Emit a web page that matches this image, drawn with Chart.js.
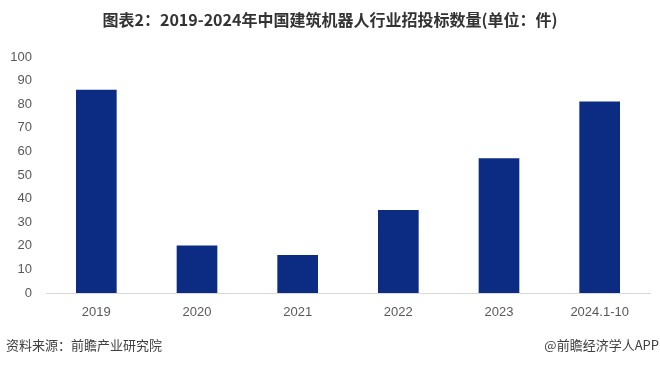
<!DOCTYPE html>
<html>
<head>
<meta charset="utf-8">
<script src="https://cdn.jsdelivr.net/npm/chart.js@4"></script>
<style>
  html, body { margin: 0; padding: 0; background: #fff; }
  #wrap { position: relative; width: 660px; height: 365px; }
</style>
</head>
<body>
<div id="wrap"><canvas id="chart" width="660" height="365"></canvas></div>
<script>
// chart data
const categories = ["2019", "2020", "2021", "2022", "2023", "2024.1-10"];
const bidCounts = [86, 20, 16, 35, 57, 81];
const yTicks = [0, 10, 20, 30, 40, 50, 60, 70, 80, 90, 100];

const titleText = "图表2：2019-2024年中国建筑机器人行业招投标数量(单位：件)";
const sourceText = "资料来源：前瞻产业研究院";
const brandText = "@前瞻经济学人APP";

const cjkFont = '"Noto Sans CJK SC", "Microsoft YaHei", sans-serif';

// draws title and footer texts
const textPlugin = {
  id: "texts",
  afterDraw(chart) {
    const ctx = chart.ctx;
    ctx.save();
    ctx.textBaseline = "middle";
    ctx.fillStyle = "#333333";
    ctx.font = "bold 16px " + cjkFont;
    ctx.textAlign = "center";
    ctx.fillText(titleText, 330, 20);

    ctx.font = "13px " + cjkFont;
    ctx.fillStyle = "#404040";
    ctx.textAlign = "left";
    ctx.fillText(sourceText, 6, 345);
    ctx.textAlign = "right";
    ctx.fillText(brandText, 659, 345);
    ctx.restore();
  },
};

const ctx = document.getElementById("chart").getContext("2d");
new Chart(ctx, {
  type: "bar",
  data: {
    labels: categories,
    datasets: [
      {
        data: bidCounts,
        backgroundColor: "#0c2c84",
        barThickness: 40,
      },
    ],
  },
  options: {
    responsive: false,
    animation: false,
    layout: {
      padding: { top: 57, right: 10, bottom: 42, left: 0 },
    },
    plugins: {
      legend: { display: false },
      title: { display: false },
      tooltip: { enabled: false },
    },
    scales: {
      x: {
        grid: { display: false, drawTicks: false },
        border: { display: true, color: "#d9d9d9", width: 1 },
        ticks: {
          color: "#595959",
          font: { family: "Liberation Sans, Arial, sans-serif", size: 13 },
          padding: 12,
          maxRotation: 0,
        },
        afterFit(scale) {
          scale.height = 30;
        },
      },
      y: {
        min: 0,
        max: 100,
        afterBuildTicks(scale) {
          scale.ticks = yTicks.map((v) => ({ value: v }));
        },
        grid: { display: false, drawTicks: false },
        border: { display: false },
        ticks: {
          color: "#595959",
          font: { family: "Liberation Sans, Arial, sans-serif", size: 13 },
          padding: 14,
        },
        afterFit(scale) {
          scale.width = 46;
        },
      },
    },
  },
  plugins: [textPlugin],
});
</script>
</body>
</html>
